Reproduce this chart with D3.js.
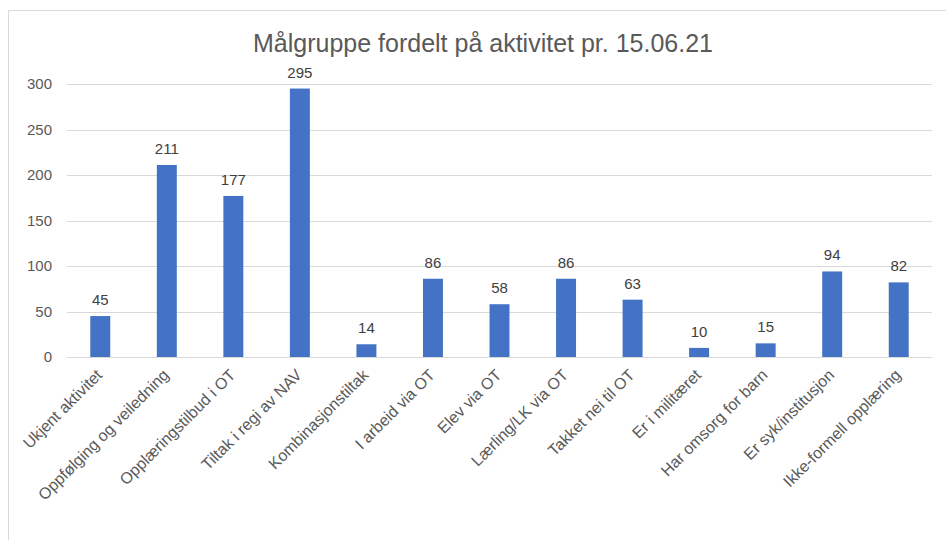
<!DOCTYPE html>
<html><head><meta charset="utf-8">
<script src="https://cdn.jsdelivr.net/npm/d3@7"></script>
<style>html,body{margin:0;padding:0;background:#fff;}svg{display:block;}</style>
</head><body>
<script>
const categories = ["Ukjent aktivitet","Oppfølging og veiledning","Opplæringstilbud i OT","Tiltak i regi av NAV","Kombinasjonstiltak","I arbeid via OT","Elev via OT","Lærling/LK via OT","Takket nei til OT","Er i militæret","Har omsorg for barn","Er syk/institusjon","Ikke-formell opplæring"];
const values = [45,211,177,295,14,86,58,86,63,10,15,94,82];
const yTicks = [0,50,100,150,200,250,300];
const title = "Målgruppe fordelt på aktivitet pr. 15.06.21";

const W = 946, H = 540;
const m = {left:67, right:14, top:84, bottom:183};
const svg = d3.select("body").append("svg").attr("width",W).attr("height",H);
const font = "'Liberation Sans', Arial, sans-serif";

// chart border
svg.append("path").attr("d",`M8.5,${H} L8.5,10.5 L${W},10.5`).attr("fill","none").attr("stroke","#d9d9d9").attr("stroke-width",1);

const x = d3.scaleBand().domain(categories).range([m.left, W-m.right]).paddingInner(0.7).paddingOuter(0.35);
const y = d3.scaleLinear().domain([0,300]).range([H-m.bottom, m.top]);

// gridlines
svg.append("g").selectAll("line").data(yTicks).join("line")
  .attr("x1",m.left).attr("x2",W-m.right)
  .attr("y1",d=>Math.round(y(d))+0.5).attr("y2",d=>Math.round(y(d))+0.5)
  .attr("stroke","#d9d9d9").attr("stroke-width",1);

// y axis labels
const yAxis = d3.axisLeft(y).tickValues(yTicks).tickSize(0).tickPadding(0);
const gy = svg.append("g").attr("transform",`translate(52,0)`).call(yAxis);
gy.select(".domain").remove();
gy.selectAll("text").attr("fill","#595959").style("font-family",font).style("font-size","15px");

// bars
svg.append("g").selectAll("rect").data(values).join("rect")
  .attr("x",(d,i)=>x(categories[i])).attr("width",x.bandwidth())
  .attr("y",d=>y(d)).attr("height",d=>y(0)-y(d))
  .attr("fill","#4472C4");

// data labels
svg.append("g").selectAll("text").data(values).join("text")
  .attr("x",(d,i)=>x(categories[i])+x.bandwidth()/2)
  .attr("y",d=>y(d)-11)
  .attr("text-anchor","middle")
  .attr("fill","#404040").style("font-family",font).style("font-size","15px")
  .text(d=>d);

// x axis
const xAxis = d3.axisBottom(x).tickSize(0).tickPadding(0);
const gx = svg.append("g").attr("transform",`translate(0,${y(0)})`).call(xAxis);
gx.select(".domain").attr("stroke","#d9d9d9");
gx.selectAll("text")
  .attr("fill","#595959").style("font-family",font).style("font-size","16px")
  .attr("text-anchor","end").attr("dy","0")
  .attr("transform","translate(3,19) rotate(-45)");

// title
svg.append("text").attr("x",483).attr("y",52).attr("text-anchor","middle")
  .attr("fill","#595959").style("font-family",font).style("font-size","25px")
  .text(title);
</script>
</body></html>
